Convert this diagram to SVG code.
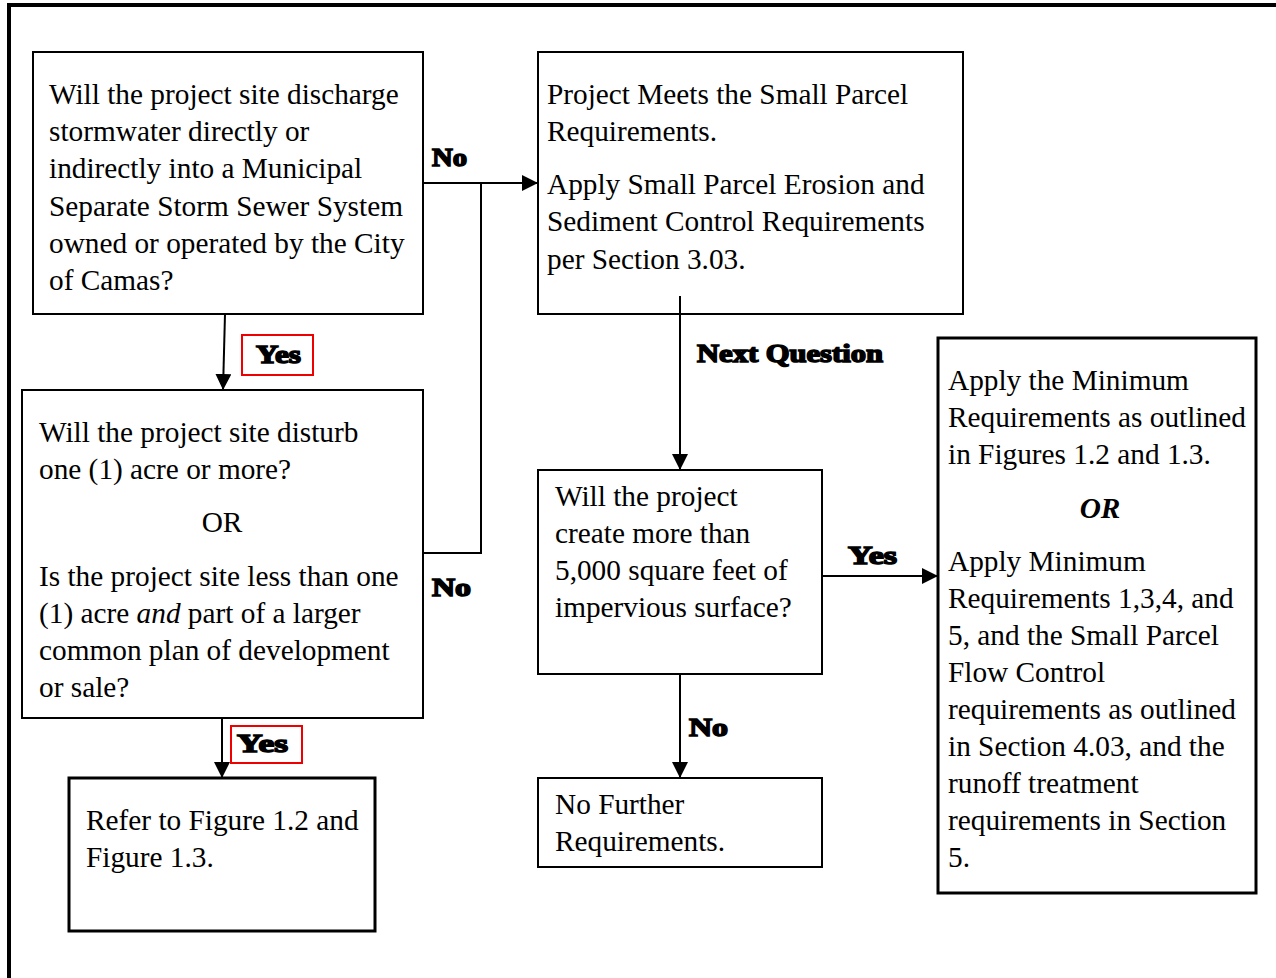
<svg xmlns="http://www.w3.org/2000/svg" width="1276" height="978" viewBox="0 0 1276 978">
<defs>
<marker id="ah" viewBox="0 0 10 10" refX="10" refY="5" markerWidth="16" markerHeight="16" markerUnits="userSpaceOnUse" orient="auto"><path d="M0,0 L10,5 L0,10 z" fill="#000"/></marker>
<style>
.box{fill:#fff;stroke:#000;stroke-width:2}
.tbox{fill:#fff;stroke:#000;stroke-width:3}
.t{font-family:"Liberation Serif","Times New Roman",serif;font-size:29.3px;fill:#000}
.lbl{font-family:"Liberation Serif","Times New Roman",serif;font-size:26px;font-weight:900;fill:#000;stroke:#000;stroke-width:1.6}
.ln{fill:none;stroke:#000;stroke-width:2}
.red{fill:#fff;stroke:#e00;stroke-width:2}
</style>
</defs>
<rect width="1276" height="978" fill="#fff"/>
<path d="M9,978 V5 H1276" fill="none" stroke="#000" stroke-width="4"/>
<g id="q1">
<rect class="box" x="33" y="52" width="390" height="262"/>
<text class="t" x="49" y="104">Will the project site discharge</text>
<text class="t" x="49" y="141">stormwater directly or</text>
<text class="t" x="49" y="178">indirectly into a Municipal</text>
<text class="t" x="49" y="216">Separate Storm Sewer System</text>
<text class="t" x="49" y="253">owned or operated by the City</text>
<text class="t" x="49" y="290">of Camas?</text>
</g>
<g id="smallparcel">
<rect class="box" x="538" y="52" width="425" height="262"/>
<text class="t" x="547" y="104">Project Meets the Small Parcel</text>
<text class="t" x="547" y="141">Requirements.</text>
<text class="t" x="547" y="194">Apply Small Parcel Erosion and</text>
<text class="t" x="547" y="231">Sediment Control Requirements</text>
<text class="t" x="547" y="269">per Section 3.03.</text>
</g>
<g id="q2">
<rect class="box" x="22" y="390" width="401" height="328"/>
<text class="t" x="39" y="442">Will the project site disturb</text>
<text class="t" x="39" y="479">one (1) acre or more?</text>
<text class="t" x="222" y="532" text-anchor="middle">OR</text>
<text class="t" x="39" y="586">Is the project site less than one</text>
<text class="t" x="39" y="623">(1) acre <tspan font-style="italic">and</tspan> part of a larger</text>
<text class="t" x="39" y="660">common plan of development</text>
<text class="t" x="39" y="697">or sale?</text>
</g>
<g id="q3">
<rect class="box" x="538" y="470" width="284" height="204"/>
<text class="t" x="555" y="506">Will the project</text>
<text class="t" x="555" y="543">create more than</text>
<text class="t" x="555" y="580">5,000 square feet of</text>
<text class="t" x="555" y="617">impervious surface?</text>
</g>
<g id="minreq">
<rect class="tbox" x="938" y="338" width="318" height="555"/>
<text class="t" x="948" y="390">Apply the Minimum</text>
<text class="t" x="948" y="427">Requirements as outlined</text>
<text class="t" x="948" y="464">in Figures 1.2 and 1.3.</text>
<text class="t" x="1100" y="518" text-anchor="middle" font-weight="bold" font-style="italic">OR</text>
<text class="t" x="948" y="571">Apply Minimum</text>
<text class="t" x="948" y="608">Requirements 1,3,4, and</text>
<text class="t" x="948" y="645">5, and the Small Parcel</text>
<text class="t" x="948" y="682">Flow Control</text>
<text class="t" x="948" y="719">requirements as outlined</text>
<text class="t" x="948" y="756">in Section 4.03, and the</text>
<text class="t" x="948" y="793">runoff treatment</text>
<text class="t" x="948" y="830">requirements in Section</text>
<text class="t" x="948" y="867">5.</text>
</g>
<g id="refer">
<rect class="tbox" x="69" y="778" width="306" height="153"/>
<text class="t" x="86" y="830">Refer to Figure 1.2 and</text>
<text class="t" x="86" y="867">Figure 1.3.</text>
</g>
<g id="nofurther">
<rect class="box" x="538" y="778" width="284" height="89"/>
<text class="t" x="555" y="814">No Further</text>
<text class="t" x="555" y="851">Requirements.</text>
</g>
<g id="connectors">
<line class="ln" x1="423" y1="183" x2="538" y2="183" marker-end="url(#ah)"/>
<polyline class="ln" points="423,553 481,553 481,183"/>
<line class="ln" x1="225" y1="314" x2="223" y2="390" marker-end="url(#ah)"/>
<line class="ln" x1="222" y1="718" x2="222" y2="778" marker-end="url(#ah)"/>
<line class="ln" x1="680" y1="296" x2="680" y2="470" marker-end="url(#ah)"/>
<line class="ln" x1="822" y1="576" x2="938" y2="576" marker-end="url(#ah)"/>
<line class="ln" x1="680" y1="674" x2="680" y2="778" marker-end="url(#ah)"/>
<text class="lbl" x="432" y="166" textLength="35" lengthAdjust="spacingAndGlyphs">No</text>
<rect class="red" x="242" y="335" width="71" height="40"/>
<text class="lbl" x="256" y="363" textLength="45" lengthAdjust="spacingAndGlyphs">Yes</text>
<text class="lbl" x="432" y="596" textLength="39" lengthAdjust="spacingAndGlyphs">No</text>
<text class="lbl" x="697" y="362" textLength="186" lengthAdjust="spacingAndGlyphs">Next Question</text>
<text class="lbl" x="848" y="564" textLength="49" lengthAdjust="spacingAndGlyphs">Yes</text>
<text class="lbl" x="689" y="736" textLength="39" lengthAdjust="spacingAndGlyphs">No</text>
<rect class="red" x="231" y="726" width="71" height="37"/>
<text class="lbl" x="237" y="752" textLength="51" lengthAdjust="spacingAndGlyphs">Yes</text>
</g>
</svg>
